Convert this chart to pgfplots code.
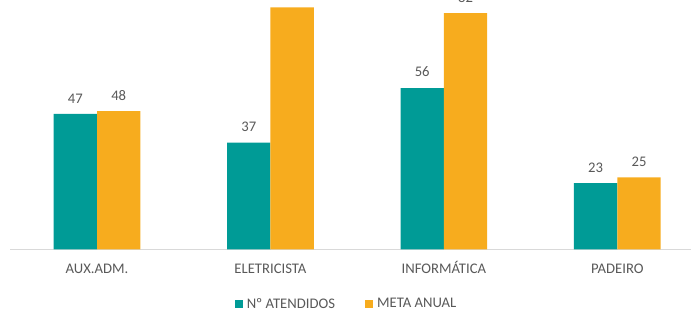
\documentclass[border=0pt]{standalone}
\usepackage{pgfplots}
\pgfplotsset{compat=1.18}
\usepackage{fontspec}
\setmainfont{Carlito}
\definecolor{tealc}{RGB}{0,155,150}
\definecolor{orangec}{RGB}{247,172,30}
\definecolor{txt}{RGB}{89,89,89}
\definecolor{axl}{RGB}{217,217,217}
\begin{document}
\begin{tikzpicture}
\useasboundingbox (0,0) rectangle (518.25pt,235.5pt);
\clip (0,0) rectangle (518.25pt,235.5pt);
\begin{axis}[
  at={(7.725pt,48.525pt)}, anchor=south west,
  scale only axis, width=520.3pt, height=194.4pt,
  xmin=-0.5, xmax=3.5, ymin=0, ymax=90,
  enlargelimits=false,
  ybar=0pt, bar width=0.25,
  axis x line*=bottom, axis y line=none,
  x axis line style={draw=axl, line width=0.75pt, -},
  xtick={0,1,2,3}, xticklabels={AUX.ADM.,ELETRICISTA,INFORMÁTICA,PADEIRO},
  major tick length=0pt,
  xticklabel style={font=\fontsize{11}{13}\selectfont, text=txt, anchor=base, yshift=-18.5pt, inner sep=0pt},
  /pgf/number format/assume math mode=true,
  nodes near coords,
  nodes near coords style={font=\fontsize{11}{13}\selectfont, text=txt, anchor=south, inner sep=0pt, yshift=8pt},
  legend columns=2,
  legend style={draw=none, fill=none, at={(0.4832,-0.211)}, anchor=center,
    font=\fontsize{11}{13}\selectfont, text=txt,
    nodes={inner sep=0pt, anchor=west},
    /tikz/every even column/.append style={column sep=22.5pt},
    /tikz/every odd column/.append style={column sep=3pt}},
  legend image code/.code={\fill[#1,draw=none] (0pt,-3pt) rectangle (6pt,3pt);},
]
\addplot[fill=tealc, draw=none, bar shift=-0.125] coordinates {(0,47) (1,37) (2,56) (3,23)};
\addplot[fill=orangec, draw=none, bar shift=0.125] coordinates {(0,48) (1,84) (2,82) (3,25)};
\legend{Nº ATENDIDOS, META ANUAL}
\end{axis}
\end{tikzpicture}
\end{document}
